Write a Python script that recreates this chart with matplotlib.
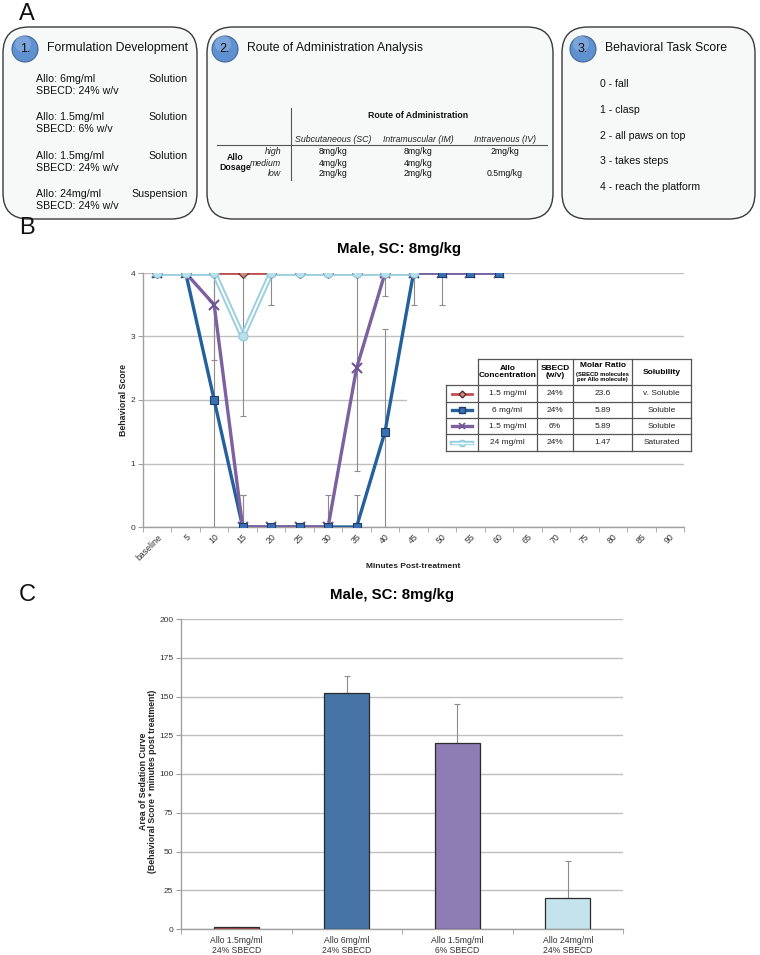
import numpy as np
import matplotlib
matplotlib.use('Agg')
import matplotlib.pyplot as plt
from matplotlib.patches import FancyBboxPatch, Circle, Rectangle
from matplotlib.lines import Line2D

plt.rcParams['font.family'] = ['Liberation Sans', 'DejaVu Sans']

# ---- dados ----
time_labels = ['baseline', '5', '10', '15', '20', '25', '30', '35', '40', '45',
               '50', '55', '60', '65', '70', '75', '80', '85', '90']

score_red = [4, 4, 4, 4, 4, 4, 4, 4, 4, 4]
score_blue = [4, 4, 2, 0, 0, 0, 0, 0, 1.5, 4, 4, 4, 4]
score_purple = [4, 4, 3.5, 0, 0, 0, 0, 2.5, 4, 4, 4, 4, 4]
score_lblue = [4, 4, 4, 3, 4, 4, 4, 4, 4, 4]

err_blue = [0, 0, 2, 0.5, 0, 0, 0, 0.5, 1.62, 0.5, 0.5, 0, 0]
err_purple = [0, 0, 0.87, 0.5, 0, 0, 0.5, 1.62, 0.37, 0, 0, 0, 0]
err_lblue = [0, 0, 0, 1.25, 0.5, 0, 0, 0, 0, 0]

leg_conc = ['1.5 mg/ml', '6 mg/ml', '1.5 mg/ml', '24 mg/ml']
leg_sbecd = ['24%', '24%', '6%', '24%']
leg_ratio = ['23.6', '5.89', '5.89', '1.47']
leg_solub = ['v. Soluble', 'Soluble', 'Soluble', 'Saturated']

bar_labels = ['Allo 1.5mg/ml\n24% SBECD', 'Allo 6mg/ml\n24% SBECD',
              'Allo 1.5mg/ml\n6% SBECD', 'Allo 24mg/ml\n24% SBECD']
auc_values = [1, 152, 120, 20]
auc_err = [0, 11, 25, 24]

form_allo = ['Allo: 6mg/ml', 'Allo: 1.5mg/ml', 'Allo: 1.5mg/ml', 'Allo: 24mg/ml']
form_sbecd = ['SBECD: 24% w/v', 'SBECD: 6% w/v', 'SBECD: 24% w/v', 'SBECD: 24% w/v']
form_state = ['Solution', 'Solution', 'Solution', 'Suspension']

route_cols = ['Subcutaneous (SC)', 'Intramuscular (IM)', 'Intravenous (IV)']
dose_rows = ['high', 'medium', 'low']
dose_sc = ['8mg/kg', '4mg/kg', '2mg/kg']
dose_im = ['8mg/kg', '4mg/kg', '2mg/kg']
dose_iv = ['2mg/kg', '', '0.5mg/kg']

task_scores = ['0 - fall', '1 - clasp', '2 - all paws on top',
               '3 - takes steps', '4 - reach the platform']

# ---- cores / estilos ----
RED, BLUE, PURPLE, LBLUE = '#C0504D', '#24609B', '#7D60A0', '#9ACFE0'
GRID = '#BFBFBF'
SPINE = '#A0A0A0'
TXT = '#333333'

W, H = 760, 955
fig = plt.figure(figsize=(W / 100, H / 100), dpi=100)


def frac(x0, y0, x1, y1):
    return [x0 / W, 1 - y1 / H, (x1 - x0) / W, (y1 - y0) / H]


def estilo_eixo(ax):
    for s in ['top', 'right']:
        ax.spines[s].set_visible(False)
    for s in ['left', 'bottom']:
        ax.spines[s].set_color(SPINE)
        ax.spines[s].set_linewidth(1)
    ax.yaxis.grid(True, color=GRID, lw=1)
    ax.set_axisbelow(True)
    ax.tick_params(axis='y', direction='out', length=3.5, color=SPINE,
                   labelsize=6, labelcolor=TXT, pad=2)
    ax.tick_params(axis='x', which='major', length=0, labelcolor=TXT)
    ax.tick_params(axis='x', which='minor', direction='out', length=3.5, color=SPINE)


# ---- painel B ----
axB = fig.add_axes(frac(143, 273, 684, 527))
estilo_eixo(axB)
axB.set_xlim(-0.5, len(time_labels) - 0.5)
axB.set_ylim(0, 4)
axB.set_yticks([0, 1, 2, 3, 4])
axB.set_xticks(np.arange(len(time_labels)))
axB.set_xticklabels(time_labels, rotation=45, ha='right', rotation_mode='anchor', fontsize=6.3)
axB.set_xticks(np.arange(-0.5, len(time_labels)), minor=True)
axB.tick_params(axis='x', which='major', pad=4)

for vals, err in [(score_blue, err_blue), (score_purple, err_purple), (score_lblue, err_lblue)]:
    v = np.array(vals, dtype=float)
    e = np.array(err, dtype=float)
    idx = np.nonzero(e)[0]
    axB.errorbar(idx, v[idx], yerr=e[idx], fmt='none', ecolor='#8C8C8C',
                 elinewidth=0.8, capsize=2.5, capthick=0.8, zorder=2)

xr = np.arange(len(score_red))
xb = np.arange(len(score_blue))
xp = np.arange(len(score_purple))
xl = np.arange(len(score_lblue))

axB.plot(xr, score_red, color=RED, lw=2, zorder=3)
axB.plot(xb, score_blue, color=BLUE, lw=2.4, zorder=3.1)
axB.plot(xp, score_purple, color=PURPLE, lw=2.4, zorder=3.2)
axB.plot(xl, score_lblue, color=LBLUE, lw=4.2, zorder=3.3)
axB.plot(xl, score_lblue, color='white', lw=1.4, zorder=3.35)

axB.plot(xr, score_red, ls='none', marker='D', ms=5, mfc='#C98A87', mec='#5C2E2B', mew=0.8, zorder=4)
axB.plot(xp, score_purple, ls='none', marker='x', ms=6.5, mew=1.5, color='#6F5593', zorder=4.1)
axB.plot(xb, score_blue, ls='none', marker='s', ms=6, mfc='#3C70B2', mec='#1E3F6C', mew=0.8, zorder=4.2)
axB.plot(xl, score_lblue, ls='none', marker='o', ms=6.5, mfc='#B8DFEA', mec='#8EC8DA', mew=0.8, zorder=4.3)

# ---- painel C ----
axC = fig.add_axes(frac(181, 619, 623, 929))
estilo_eixo(axC)
xc = np.arange(len(bar_labels))
axC.bar(xc, auc_values, width=0.41, color=['#C0504D', '#4674A6', '#8E7CB4', '#C5E3EC'],
        edgecolor='#2B2B2B', lw=0.9, zorder=3)
axC.errorbar(xc, auc_values, yerr=[np.zeros(len(auc_err)), auc_err], fmt='none',
             ecolor='#8C8C8C', elinewidth=0.8, capsize=2.5, capthick=0.8, zorder=2)
axC.set_xlim(-0.5, len(bar_labels) - 0.5)
axC.set_ylim(0, 200)
axC.set_yticks(np.arange(0, 201, 25))
axC.set_xticks(xc)
axC.set_xticklabels(bar_labels, fontsize=6.2, linespacing=1.15)
axC.set_xticks(np.arange(-0.5, len(bar_labels)), minor=True)
axC.tick_params(axis='x', which='major', pad=5)

# ---- sobreposição (painel A, legenda, textos) ----
ov = fig.add_axes([0, 0, 1, 1], zorder=5)
ov.set_xlim(0, W)
ov.set_ylim(H, 0)
ov.axis('off')
ov.patch.set_alpha(0)

for lab, yy in [('A', 14), ('B', 228), ('C', 595)]:
    ov.text(19, yy, lab, fontsize=17, ha='left', va='center', color='#111')

caixas = [(3, 27, 197, 219), (207, 27, 553, 219), (562, 27, 755, 219)]
for x0, y0, x1, y1 in caixas:
    ov.add_patch(FancyBboxPatch((x0, y0), x1 - x0, y1 - y0,
                                boxstyle='round,pad=0,rounding_size=26',
                                fc='#F7F8F8', ec='#3A3A3A', lw=1))

titulos = [(25, '1.', 'Formulation Development'), (225, '2.', 'Route of Administration Analysis'),
           (583, '3.', 'Behavioral Task Score')]
for cx, num, tit in titulos:
    ov.add_patch(Circle((cx, 49), 13, fc='#5F90CF', ec='#40679B', lw=0.8))
    ov.add_patch(Circle((cx - 2, 44), 8, fc='#8FB4E2', ec='none', alpha=0.6))
    ov.text(cx, 49, num, fontsize=9, ha='center', va='center', color='#111')
    ov.text(cx + 22, 48, tit, fontsize=8.8, ha='left', va='center', color='#111')

# caixa 1
for i in range(len(form_allo)):
    y = 79 + i * 38.3
    ov.text(36, y, form_allo[i], fontsize=7.7, va='center', color='#111')
    ov.text(36, y + 12, form_sbecd[i], fontsize=7.7, va='center', color='#111')
    ov.text(188, y, form_state[i], fontsize=7.7, va='center', ha='right', color='#111')

# caixa 2 (tabela)
ov.plot([291, 291], [108, 180], color='#555', lw=0.8)
ov.plot([217, 547], [145, 145], color='#555', lw=0.8)
ov.text(418, 116, 'Route of Administration', fontsize=6.3, fontweight='bold',
        ha='center', va='center', color='#111')
col_x = [333, 418, 505]
for cx, nome in zip(col_x, route_cols):
    ov.text(cx, 139, nome, fontsize=6.3, style='italic', ha='center', va='center', color='#222')
ov.text(235, 157, 'Allo', fontsize=6.3, fontweight='bold', ha='center', va='center', color='#111')
ov.text(235, 168, 'Dosage', fontsize=6.3, fontweight='bold', ha='center', va='center', color='#111')
for j, (rot, a, b, c) in enumerate(zip(dose_rows, dose_sc, dose_im, dose_iv)):
    y = 152 + j * 11
    ov.text(281, y, rot, fontsize=6.3, style='italic', ha='right', va='center', color='#222')
    for cx, val in zip(col_x, [a, b, c]):
        ov.text(cx, y, val, fontsize=6.3, ha='center', va='center', color='#111')

# caixa 3
for k, item in enumerate(task_scores):
    ov.text(600, 84 + k * 25.8, item, fontsize=7.6, va='center', color='#111')

# titulos e rotulos dos graficos
ov.text(399, 249, 'Male, SC: 8mg/kg', fontsize=10.8, fontweight='bold', ha='center', va='center')
ov.text(392, 595, 'Male, SC: 8mg/kg', fontsize=10.8, fontweight='bold', ha='center', va='center')
ov.text(123, 400, 'Behavioral Score', fontsize=6.3, fontweight='bold', rotation=90,
        ha='center', va='center', color='#222')
ov.text(413, 566, 'Minutes Post-treatment', fontsize=6, fontweight='bold',
        ha='center', va='center', color='#222')
ov.text(148, 781, 'Area of Sedation Curve\n(Behavioral Score * minutes post treatment)',
        fontsize=6.3, fontweight='bold', rotation=90, ha='center', va='center',
        color='#222', linespacing=1.1)

# legenda em forma de tabela (painel B)
ov.add_patch(Rectangle((407, 342), 290, 116, fc='white', ec='none'))
cols = [446, 478, 537, 573, 632, 691]
rows = [359, 385, 402, 418, 434, 451]
ov.plot([cols[1], cols[-1]], [rows[0], rows[0]], color='#555', lw=0.9)
for ry in rows[1:]:
    ov.plot([cols[0], cols[-1]], [ry, ry], color='#555', lw=0.9)
ov.plot([cols[0], cols[0]], [rows[1], rows[-1]], color='#555', lw=0.9)
for cx in cols[1:]:
    ov.plot([cx, cx], [rows[0], rows[-1]], color='#555', lw=0.9)

mid = [(cols[i] + cols[i + 1]) / 2 for i in range(len(cols) - 1)]
hy = (rows[0] + rows[1]) / 2
ov.text(mid[1], hy, 'Allo\nConcentration', fontsize=6, fontweight='bold', ha='center',
        va='center', linespacing=1.05)
ov.text(mid[2], hy, 'SBECD\n(w/v)', fontsize=6, fontweight='bold', ha='center',
        va='center', linespacing=1.05)
ov.text(mid[3], hy - 6.5, 'Molar Ratio', fontsize=6, fontweight='bold', ha='center', va='center')
ov.text(mid[3], hy + 5, '(SBECD molecules\nper Allo molecule)', fontsize=4.2, fontweight='bold',
        ha='center', va='center', linespacing=1.0)
ov.text(mid[4], hy, 'Solubility', fontsize=6, fontweight='bold', ha='center', va='center')

amostras = [
    dict(color=RED, lw=2, marker='D', ms=3.5, mfc='#C98A87', mec='#5C2E2B'),
    dict(color=BLUE, lw=2.4, marker='s', ms=4.5, mfc='#3C70B2', mec='#1E3F6C'),
    dict(color=PURPLE, lw=2.4, marker='x', ms=4.5, mew=1.2, mec='#6F5593'),
    dict(color=LBLUE, lw=3.2, marker='o', ms=4.5, mfc='#B8DFEA', mec='#8EC8DA'),
]
for r in range(len(leg_conc)):
    cy = (rows[r + 1] + rows[r + 2]) / 2
    ov.add_line(Line2D([452, 462, 472], [cy, cy, cy], markevery=[1], **amostras[r]))
    if r == 3:
        ov.add_line(Line2D([452, 472], [cy, cy], color='white', lw=1))
    for ci, val in zip(range(1, 5), [leg_conc[r], leg_sbecd[r], leg_ratio[r], leg_solub[r]]):
        ov.text(mid[ci], cy, val, fontsize=6, ha='center', va='center', color='#222')

fig.savefig('out.png', dpi=100)
